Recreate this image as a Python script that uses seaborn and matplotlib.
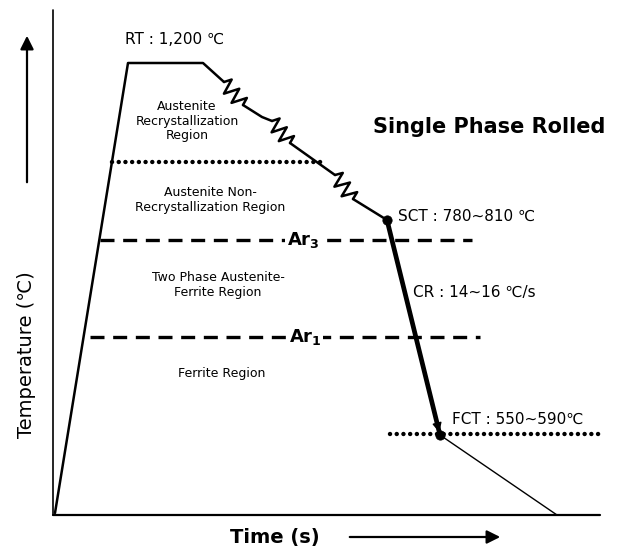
import numpy as np
import pandas as pd
import matplotlib
matplotlib.use("Agg")
import matplotlib.pyplot as plt
import seaborn as sns

# Schematic thermo-mechanical schedule (time units on x, temperature units on y)
reheat_time = [55, 128, 203, 224]
reheat_temp = [35, 485, 485, 466]

# straight pieces of the rolling path between deformation passes
roll_time_a = [243, 262, 272]
roll_temp_a = [443, 431, 427]
roll_time_b = [290, 335]
roll_temp_b = [405, 373]
roll_time_c = [353, 387]
roll_temp_c = [349, 328]

# deformation passes drawn as springs: (start, end)
passes = [((224, 466), (243, 443)),
          ((272, 427), (290, 405)),
          ((335, 373), (353, 349))]

# accelerated cooling from SCT to FCT, then air cooling
cool_time = [387, 440]
cool_temp = [328, 113]
air_time = [440, 557]
air_temp = [113, 33]

# critical temperatures (level, x start, x end)
rec_stop = (386, 112, 322)
ar3_line = (308, 100, 472)
ar1_line = (211, 90, 480)
fct_line = (114, 390, 602)


def spring(p0, p1, k=5, amp=7.5):
    p0 = np.asarray(p0, float)
    p1 = np.asarray(p1, float)
    d = p1 - p0
    nrm = np.array([-d[1], d[0]]) / np.hypot(*d)
    pts = [p0]
    for i in range(k):
        t = (i + 0.5) / k
        s = 1 if i % 2 == 0 else -1
        pts.append(p0 + d * t + s * amp * nrm)
    pts.append(p1)
    pts = np.array(pts)
    return pts[:, 0], pts[:, 1]


sns.set_style("white")
plt.rcParams["font.family"] = ["DejaVu Sans"]
plt.rcParams["text.color"] = "black"

fig = plt.figure(figsize=(6.3, 5.48), dpi=100)
ax = fig.add_axes([0, 0, 1, 1])
ax.set_xlim(0, 630)
ax.set_ylim(0, 548)
ax.axis("off")


def line(x, y, lw=1.6, **kw):
    df = pd.DataFrame({"x": x, "y": y})
    sns.lineplot(data=df, x="x", y="y", sort=False, estimator=None,
                 color="black", lw=lw, ax=ax, **kw)


# axes frame
line([53, 53], [33, 538], lw=1.2)
line([53, 600], [33, 33], lw=1.6)

# thermal path
line(reheat_time, reheat_temp, lw=1.8)
for p0, p1 in passes:
    sx, sy = spring(p0, p1)
    line(sx, sy, lw=1.8)
line(roll_time_a, roll_temp_a, lw=1.8)
line(roll_time_b, roll_temp_b, lw=1.8)
line(roll_time_c, roll_temp_c, lw=1.8)
line(cool_time, cool_temp, lw=3.4)
line(air_time, air_temp, lw=1.0)

# arrowhead at the end of accelerated cooling
ax.annotate("", xy=(cool_time[1], cool_temp[1]),
            xytext=(cool_time[1] - 4, cool_temp[1] + 16),
            arrowprops=dict(arrowstyle="-|>", color="black", lw=1,
                            mutation_scale=14))

# critical temperature levels
dots = (0, (0.01, 1.5))
dash = (0, (4.2, 2.6))
line([rec_stop[1], rec_stop[2]], [rec_stop[0]] * 2, lw=3.2,
     linestyle=dots, dash_capstyle="round")
line([fct_line[1], fct_line[2]], [fct_line[0]] * 2, lw=3.2,
     linestyle=dots, dash_capstyle="round")
line([ar3_line[1], ar3_line[2]], [ar3_line[0]] * 2, lw=2.4, linestyle=dash)
line([ar1_line[1], ar1_line[2]], [ar1_line[0]] * 2, lw=2.4, linestyle=dash)

# SCT / FCT points
pts = pd.DataFrame({"x": cool_time, "y": cool_temp})
sns.scatterplot(data=pts, x="x", y="y", color="black", s=45, ax=ax,
                edgecolor="black", zorder=5)

# labels
ax.text(303, ar3_line[0], r"Ar$_\mathbf{3}$", ha="center", va="center",
        fontsize=13, fontweight="bold",
        bbox=dict(facecolor="white", edgecolor="none", pad=1))
ax.text(305, ar1_line[0], r"Ar$_\mathbf{1}$", ha="center", va="center",
        fontsize=13, fontweight="bold",
        bbox=dict(facecolor="white", edgecolor="none", pad=1))

ax.text(175, 508, "RT : 1,200 ℃", ha="center", va="center", fontsize=11)
ax.text(489, 421, "Single Phase Rolled", ha="center", va="center",
        fontsize=15, fontweight="bold")
ax.text(187, 427, "Austenite\nRecrystallization\nRegion", ha="center",
        va="center", fontsize=9, linespacing=1.1)
ax.text(210, 348, "Austenite Non-\nRecrystallization Region", ha="center",
        va="center", fontsize=9, linespacing=1.3)
ax.text(218, 263, "Two Phase Austenite-\nFerrite Region", ha="center",
        va="center", fontsize=9, linespacing=1.2)
ax.text(222, 175, "Ferrite Region", ha="center", va="center", fontsize=9)
ax.text(398, 332, "SCT : 780~810 ℃", ha="left", va="center", fontsize=11)
ax.text(413, 256, "CR : 14~16 ℃/s", ha="left", va="center", fontsize=11)
ax.text(452, 129, "FCT : 550~590℃", ha="left", va="center", fontsize=11)

ax.text(27, 193, "Temperature (℃)", ha="center", va="center", fontsize=14,
        rotation=90)
ax.text(275, 11, "Time (s)", ha="center", va="center", fontsize=14,
        fontweight="bold")

# direction arrows
ax.annotate("", xy=(27, 515), xytext=(27, 363),
            arrowprops=dict(arrowstyle="-|>", color="black", lw=1.6,
                            mutation_scale=20))
ax.annotate("", xy=(503, 11), xytext=(347, 11),
            arrowprops=dict(arrowstyle="-|>", color="black", lw=1.6,
                            mutation_scale=20))

fig.savefig("out.png", dpi=100, facecolor="white")
